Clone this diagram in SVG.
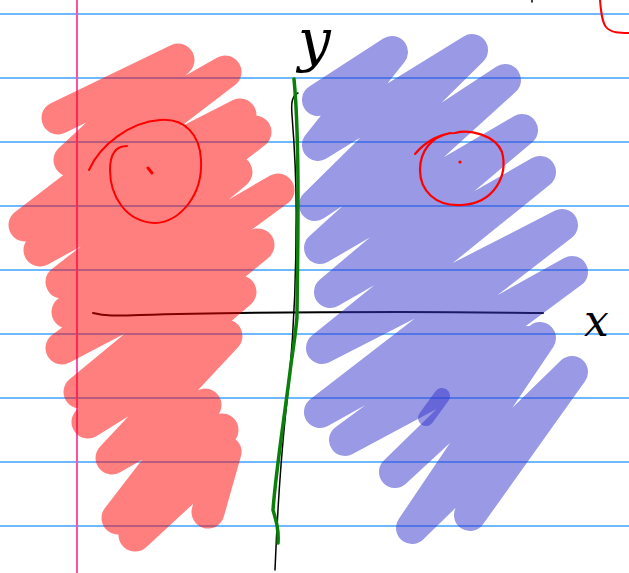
<svg xmlns="http://www.w3.org/2000/svg" width="629" height="573" viewBox="0 0 629 573">
<style>
.rule{stroke:#3da0ff;stroke-width:1.5}
.scrib{fill:none;stroke-linecap:round;stroke-linejoin:round}
.ink{fill:none;stroke-linecap:round;stroke-linejoin:round}
.lbl{font-family:"DejaVu Serif",serif;font-style:italic;fill:#000}
</style>
<rect width="629" height="573" fill="#ffffff"/>
<g id="paper">
<line class="rule" x1="0" y1="14" x2="629" y2="14"/>
<line class="rule" x1="0" y1="78" x2="629" y2="78"/>
<line class="rule" x1="0" y1="142" x2="629" y2="142"/>
<line class="rule" x1="0" y1="206" x2="629" y2="206"/>
<line class="rule" x1="0" y1="270" x2="629" y2="270"/>
<line class="rule" x1="0" y1="334" x2="629" y2="334"/>
<line class="rule" x1="0" y1="398" x2="629" y2="398"/>
<line class="rule" x1="0" y1="462" x2="629" y2="462"/>
<line class="rule" x1="0" y1="526" x2="629" y2="526"/>
<line x1="77" y1="0" x2="77" y2="573" stroke="#ff4fa8" stroke-width="2"/>
</g>
<g id="x-axis">
<path class="ink" d="M93,313 C105,316 115,316 140,315 C200,313 300,312 400,312 C480,312 520,313 543,313" stroke="#000" stroke-width="2"/>
</g>
<g id="red-region" opacity="0.5">
<path class="scrib" stroke="#ff0000" stroke-width="33" d="M58,118 L178,60 L70,160 L225,72 L25,225 L240,115 L40,250 L255,132 L62,282 L236,172 L68,312 L278,190 L62,348 L258,245 L80,392 L240,292 L88,422 L226,336 L112,458 L205,405 L118,518 L222,430 L135,535 L225,452 L208,512"/>
</g>
<g id="blue-region" opacity="0.5">
<path class="scrib" stroke="#3333cc" stroke-width="32" d="M318,100 L392,52 L318,145 L472,50 L315,205 L505,80 L320,248 L522,130 L330,292 L540,172 L322,348 L562,225 L320,412 L572,272 L345,440 L528,342 L395,472 L540,338 L412,528 L572,372 L470,515"/>
</g>
<g id="blue-overlap" opacity="0.5">
<path class="scrib" stroke="#3333cc" stroke-width="16" d="M426,418 L442,396"/>
</g>
<g id="y-axis">
<path class="ink" d="M298,93 C292,96 291,102 292,115 C294,140 297,180 296,230 C296,300 292,360 285,420 C280,470 277,520 275,570" stroke="#000" stroke-width="1.5"/>
<path class="ink" d="M294,79 C296,100 298,130 298,200 C298,260 297,300 297,317 C295,340 292,355 290,372 C284,420 276,470 273,510 C276,520 279,530 278,543" stroke="#0a800a" stroke-width="3.5"/>
</g>
<g id="labels">
<text class="lbl" x="298" y="60" font-size="58">y</text>
<text class="lbl" x="584" y="336" font-size="44">x</text>
</g>
<g id="left-circle">
<path class="ink" d="M89,170 C100,145 130,122 160,120 C185,118 200,135 201,160 C203,195 180,222 155,223 C125,222 110,195 110,170 C110,155 115,146 127,146" stroke="#ff0000" stroke-width="2"/>
<path class="ink" d="M148,168 L152,173" stroke="#ff0000" stroke-width="3"/>
</g>
<g id="right-circle">
<path class="ink" d="M415,154 C425,142 440,133 455,133 C470,129 495,135 502,152 C508,175 495,203 462,205 C435,207 420,190 420,170 C420,150 432,137 450,133" stroke="#ff0000" stroke-width="2.2"/>
<circle cx="460" cy="162" r="1.6" fill="#ff0000"/>
</g>
<g id="corner-marks">
<path class="ink" d="M600,0 C601,12 602,22 606,27 C611,33 620,33 629,33" stroke="#ff0000" stroke-width="2"/>
<path class="ink" d="M532,0 L532,2" stroke="#000" stroke-width="1.5"/>
</g>
</svg>
